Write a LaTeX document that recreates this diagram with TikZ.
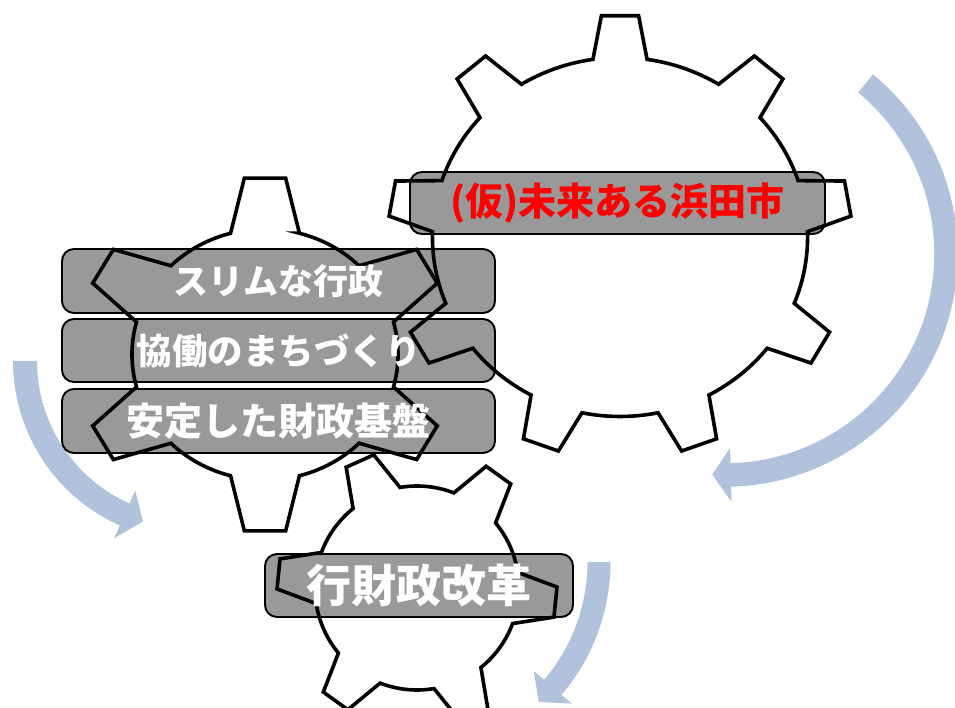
\documentclass[tikz,border=0pt]{standalone}
\usepackage{fontspec}
\newfontfamily\jp{Noto Sans CJK JP}
\definecolor{arrowblue}{RGB}{176,194,220}
\definecolor{bargray}{RGB}{153,153,153}
\definecolor{titlered}{RGB}{255,0,0}
\newcommand{\gearshape}[9]{%
  \begin{scope}[shift={(#1,#2)},xscale=#3]
  \pgfmathsetmacro{\gstep}{360/#6}
  \draw[gearline] ({#7-#9}:#5)
    \foreach \k [evaluate=\k as \ta using {#7+\k*\gstep},
                 evaluate=\k as \sa using {#7+\k*\gstep+#9},
                 evaluate=\k as \ea using {#7+(\k+1)*\gstep-#9}] in {0,...,\numexpr#6-1\relax}{
      -- ({\ta-#8}:#4) -- ({\ta+#8}:#4) -- (\sa:#5)
      arc[start angle=\sa, end angle=\ea, radius=#5]
    } -- cycle;
  \end{scope}}
\newcommand{\circarrow}[8]{%
  \begin{scope}[shift={(#1,#2)}]
  \pgfmathsetmacro{\ro}{#3+#4}\pgfmathsetmacro{\ri}{#3-#4}%
  \pgfmathsetmacro{\hro}{#3+#5}\pgfmathsetmacro{\hri}{#3-#5}%
  \fill[arrowblue] (#6:\ro) arc[start angle=#6, end angle=#7, radius=\ro]
    -- (#7:\hro) -- (#8:#3) -- (#7:\hri) -- (#7:\ri)
    arc[start angle=#7, end angle=#6, radius=\ri] -- cycle;
  \end{scope}}
\begin{document}
\begin{tikzpicture}[x=1pt,y=1pt,
  gearline/.style={line width=3.6pt, draw=black},
  barbox/.style={draw=black, line width=1.9pt, fill=bargray, rounded corners=12pt,
    inner sep=0pt, outer sep=0pt},
  bartext/.style={font=\jp\bfseries, text=white, inner sep=0pt}]
\useasboundingbox (0,0) rectangle (955,707);
\clip (0,0) rectangle (955,707);
% arrows
\circarrow{725}{453}{221}{11.75}{27}{50.5}{-88.5}{-93.3}
\circarrow{193}{346}{168}{12}{26}{180}{246}{252.7}
\circarrow{406}{145}{193}{11.5}{25}{0}{-40.5}{-46.5}
% bars
\node[barbox, minimum width=415pt, minimum height=62pt] (bt) at (617.5,504) {};
\node[barbox, minimum width=433pt, minimum height=64pt] (b1) at (278.5,426) {};
\node[barbox, minimum width=433pt, minimum height=63pt] (b2) at (278.5,356.5) {};
\node[barbox, minimum width=433pt, minimum height=64pt] (b3) at (278.5,286) {};
\node[barbox, minimum width=308pt, minimum height=63pt] (bb) at (419,121.5) {};
% gears
\gearshape{620}{470}{1.045}{222}{179.5}{9}{90}{4.6}{8.3}
\gearshape{265}{352.5}{1.06}{177.5}{125.5}{6}{90}{6.3}{15}
\gearshape{417}{119}{1}{140}{102}{6}{-5.8}{6.2}{14.6}
% texts
\node[bartext, text=titlered, font=\jp\bfseries\fontsize{38}{38}\selectfont] (tt) at (bt) {(仮)未来ある浜田市};
\node[bartext, font=\jp\bfseries\fontsize{35}{35}\selectfont] (t1) at (b1) {スリムな行政};
\node[bartext, font=\jp\bfseries\fontsize{35.5}{35.5}\selectfont] (t2) at (b2) {協働のまちづくり};
\node[bartext, font=\jp\bfseries\fontsize{38}{38}\selectfont] (t3) at (b3) {安定した財政基盤};
\node[bartext, font=\jp\bfseries\fontsize{45}{45}\selectfont] (tb) at (bb) {行財政改革};
\end{tikzpicture}
\end{document}
